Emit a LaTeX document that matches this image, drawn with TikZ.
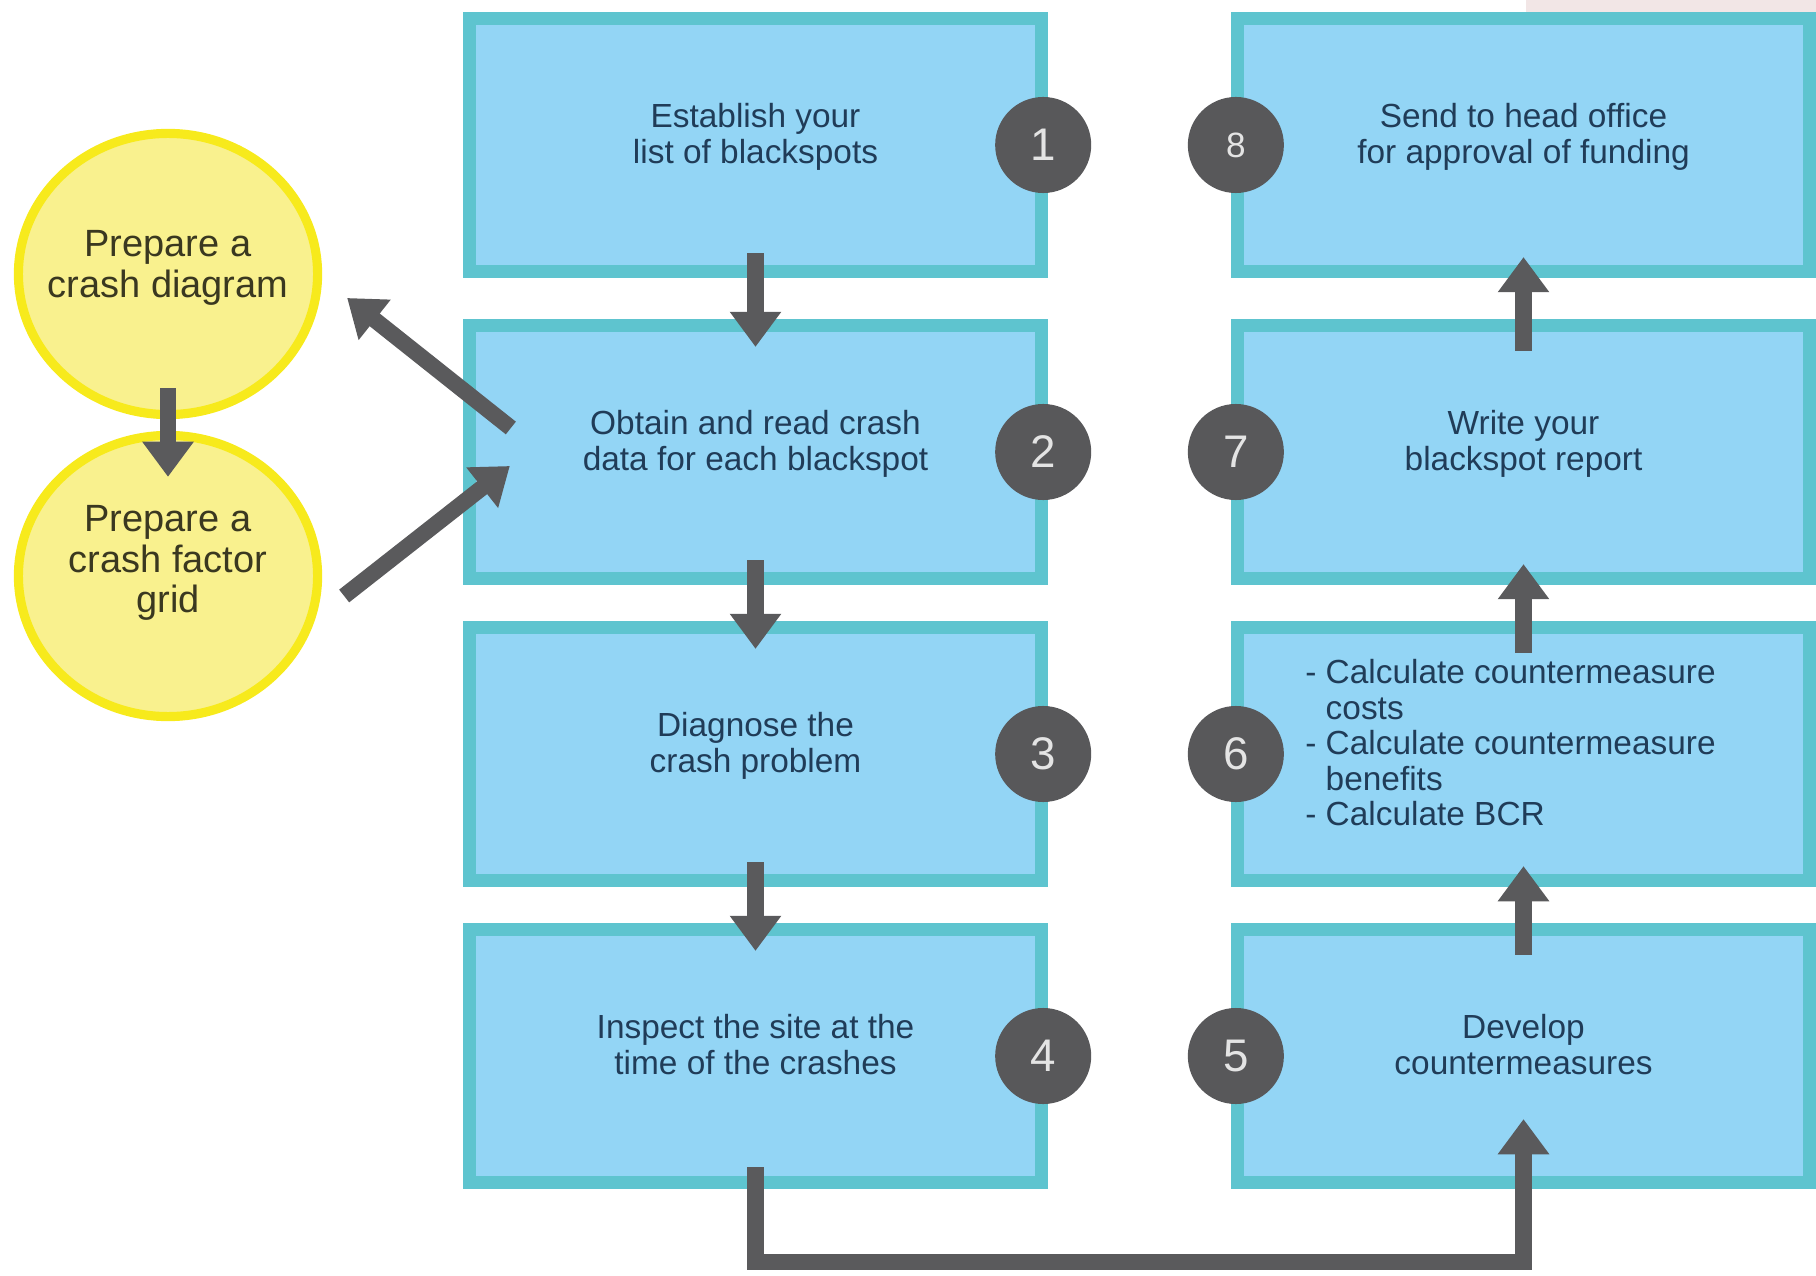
\documentclass[tikz,border=0pt]{standalone}
\usepackage{fontspec}
\setmainfont{Liberation Sans}
\usetikzlibrary{shapes.geometric, arrows.meta, calc}
\definecolor{boxfill}{RGB}{147,213,245}
\definecolor{boxteal}{RGB}{94,196,207}
\definecolor{txtblue}{RGB}{32,60,88}
\definecolor{numgray}{RGB}{88,88,90}
\definecolor{numtxt}{RGB}{228,228,228}
\definecolor{arrgray}{RGB}{90,90,92}
\definecolor{yelfill}{RGB}{249,241,142}
\definecolor{yeldraw}{RGB}{247,234,28}
\definecolor{yeltxt}{RGB}{58,56,32}
\definecolor{cornerpink}{RGB}{242,230,230}
\tikzset{
  stepbox/.style={rectangle, draw=boxteal, fill=boxfill, line width=3.7pt,
    minimum width=5.72cm, minimum height=2.53cm, align=center,
    font=\fontsize{9.5}{10.5}\selectfont, text=txtblue, text depth=6.6pt},
  steplist/.style={align=left, inner sep=0pt,
    font=\fontsize{9.5}{10.1}\selectfont, text=txtblue},
  numdot/.style={circle, fill=numgray, minimum size=0.96cm, inner sep=0pt,
    text=numtxt, font=\fontsize{13}{13}\selectfont},
  prepblob/.style={ellipse, draw=yeldraw, fill=yelfill, line width=2.6pt,
    minimum width=2.99cm, minimum height=2.81cm, inner sep=0pt},
  preptext/.style={align=center, inner sep=0pt,
    font=\fontsize{10.8}{11.5}\selectfont, text=yeltxt},
  flow/.style={-{Triangle[width=14pt,length=10pt]}, line width=4.6pt, color=arrgray}
}
\begin{document}
\begin{tikzpicture}[x=0.01cm, y=0.01cm]
  \useasboundingbox (0,0) rectangle (1816,1275);
  \fill[cornerpink] (1526,1263) rectangle (1816,1275);

  % left column
  \node[stepbox] (b1) at (755.5,1130) {Establish your\\list of blackspots};
  \node[stepbox] (b2) at (755.5,823) {Obtain and read crash\\data for each blackspot};
  \node[stepbox] (b3) at (755.5,521) {Diagnose the\\crash problem};
  \node[stepbox] (b4) at (755.5,219) {Inspect the site at the\\time of the crashes};

  % right column
  \node[stepbox] (b8) at (1523.5,1130) {Send to head office\\for approval of funding};
  \node[stepbox] (b7) at (1523.5,823) {Write your\\blackspot report};
  \node[stepbox] (b6) at (1523.5,521) {};
  \node[steplist] (b6list) at ($(b6.center)+(-13,11)$)
    {- Calculate countermeasure\\\phantom{- }costs\\- Calculate countermeasure\\\phantom{- }benefits\\- Calculate BCR};
  \node[stepbox] (b5) at (1523.5,219) {Develop\\countermeasures};

  % step numbers
  \foreach \k in {1,2,3,4} {
    \node[numdot] (n\k) at ($(b\k.east)+(-5,0)$) {\k};
  }
  \foreach \k in {5,6,7} {
    \node[numdot] (n\k) at ($(b\k.west)+(5,0)$) {\k};
  }
  \node[numdot, font=\fontsize{10}{10}\selectfont] (n8) at ($(b8.west)+(5,0)$) {8};

  % flow arrows
  \foreach \a/\b in {b1/b2, b2/b3, b3/b4} {
    \draw[flow] ($(\a.south)+(0,25)$) -- ($(\b.north)+(0,-28)$);
  }
  \foreach \a/\b in {b5/b6, b6/b7, b7/b8} {
    \draw[flow] ($(\a.north)+(0,-32)$) -- ($(\b.south)+(0,21)$);
  }
  \draw[flow] ($(b4.south)+(0,22)$) |- ($(b5.south)+(0,-73)$) -- ($(b5.south)+(0,70)$);

  % side tasks
  \node[prepblob] (diag) at (168,1001) {};
  \node[preptext] (diagtxt) at ($(diag.center)+(0,6)$) {Prepare a\\crash diagram};
  \node[prepblob] (grid) at (168,699) {};
  \node[preptext] (gridtxt) at ($(grid.center)+(0,13)$) {Prepare a\\crash factor\\grid};
  \draw[flow] ($(diag.south)+(0,31)$) -- ($(grid.north)+(0,-46)$);
  \draw[flow] ($(b2.west)+(48,24)$) -- ($(diag.east)+(25,-24)$);
  \draw[flow] ($(grid.east)+(22,-20)$) -- ($(b2.west)+(47,-14)$);
\end{tikzpicture}
\end{document}
